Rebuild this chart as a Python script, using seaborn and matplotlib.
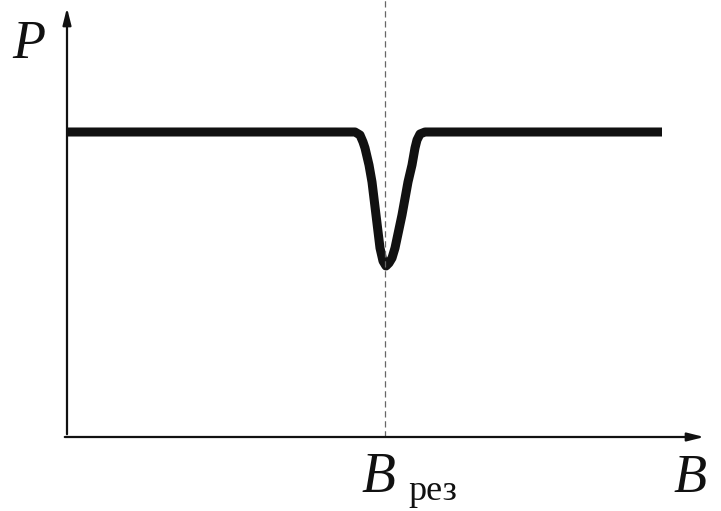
import numpy as np
import pandas as pd
import matplotlib
matplotlib.use("Agg")
import matplotlib.pyplot as plt
import seaborn as sns

# =========================
# DATA (arbitrary units)
# =========================
B_VALUES = [0.0, 28.8, 29.3, 29.6, 29.8, 30.2, 30.5, 30.9, 31.3, 31.6,
            31.9, 32.2, 32.5, 32.8, 33.5, 34.1, 34.5, 34.8, 35.0, 35.3,
            35.8, 59.5]
P_VALUES = [30.5, 30.5, 30.2, 29.5, 28.9, 27.2, 25.5, 22.2, 18.9, 17.6,
            17.1, 17.4, 17.9, 18.9, 22.2, 25.5, 27.2, 28.9, 29.7, 30.3,
            30.5, 30.5]
B_RES = 31.8
B_AXIS_END = 64.0
P_AXIS_END = 43.2

X_LABEL = "B"
Y_LABEL = "P"
RES_LABEL = "B"
RES_SUB = "рез"

df = pd.DataFrame({"B": B_VALUES, "P": P_VALUES})

# =========================
# FIGURE
# =========================
sns.set_style("white")
fig = plt.figure(figsize=(7.21, 5.11), dpi=100)
ax = fig.add_axes([0, 0, 1, 1])

sns.lineplot(data=df, x="B", y="P", ax=ax, color="#111111",
             linewidth=6.5, solid_capstyle="butt", solid_joinstyle="round",
             sort=False)

# resonance marker
ax.plot([B_RES, B_RES], [0, P_AXIS_END + 1], color="#666666",
        linewidth=0.9, linestyle=(0, (5, 3)))

# axes with arrows
ax.annotate("", xy=(B_AXIS_END, 0), xytext=(-0.5, 0),
            arrowprops=dict(arrowstyle="-|>,head_length=1.0,head_width=0.25",
                            color="#111111", lw=1.6))
ax.annotate("", xy=(0, P_AXIS_END), xytext=(0, 0),
            arrowprops=dict(arrowstyle="-|>,head_length=1.0,head_width=0.25",
                            color="#111111", lw=1.6))

serif = ["Liberation Serif", "DejaVu Serif"]
ax.text(-5.5, 37.9, Y_LABEL, fontsize=39, style="italic", family=serif,
        ha="left", va="baseline", color="#111111")
ax.text(60.6, -5.5, X_LABEL, fontsize=39, style="italic", family=serif,
        ha="left", va="baseline", color="#111111")
ax.text(29.4, -5.5, RES_LABEL, fontsize=40, style="italic", family=serif,
        ha="left", va="baseline", color="#111111")
ax.text(34.1, -6.3, RES_SUB, fontsize=26, family=serif,
        ha="left", va="baseline", color="#111111")

ax.set_xlim(-6.7, 65.4)
ax.set_ylim(-7.4, 43.7)
ax.set_xlabel("")
ax.set_ylabel("")
ax.axis("off")

fig.savefig("out.png", dpi=100, facecolor="white")
